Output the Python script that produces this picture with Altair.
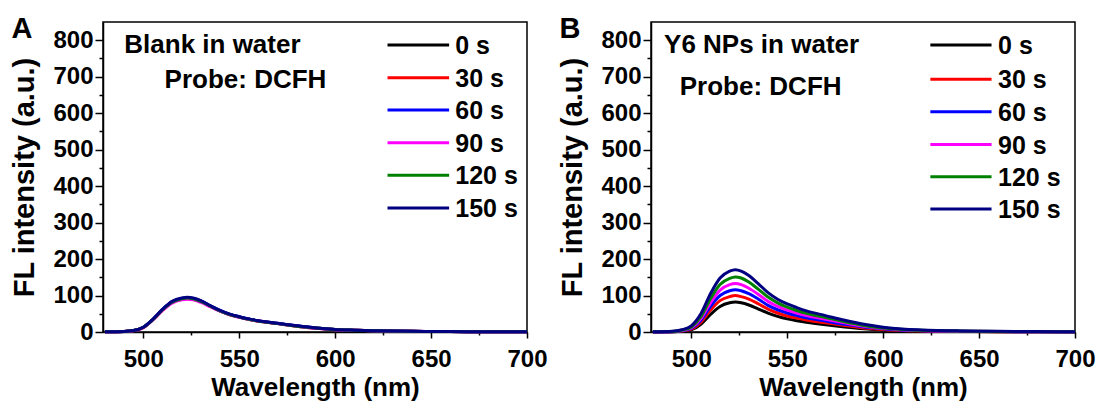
import altair as alt
import pandas as pd

# ---------------- data ----------------
WAVELENGTH = [480, 490, 495, 500, 505, 510, 515, 520, 523, 526, 530, 535, 540,
              545, 550, 555, 560, 570, 580, 590, 600, 610, 620, 640, 660, 680, 700]
TIMES = ["0 s", "30 s", "60 s", "90 s", "120 s", "150 s"]
COLORS = ["#000000", "#ff0000", "#0000ff", "#ff00ff", "#008000", "#000080"]

# Panel A: blank in water (curves nearly overlap)
A_0S = [0.5, 1.4, 4, 12.5, 34, 61, 82, 91, 93, 91, 84, 71, 58, 48, 41, 35, 30, 23, 16.5, 11, 7, 5, 3.4, 2, 1.2, 0.8, 0.5]
A_30S = [0.5, 1.4, 4, 12, 34, 60, 81, 90, 92, 90, 83, 70, 58, 48, 41, 35, 30, 23, 16, 10.5, 7, 4.8, 3.4, 1.9, 1.1, 0.7, 0.5]
A_60S = [0.5, 1.5, 4, 13, 35, 62, 83, 92, 94, 92, 85, 72, 59, 49, 42, 36, 31, 24, 17, 11, 7, 5, 3.5, 2, 1.2, 0.8, 0.5]
A_90S = [0.4, 1.3, 3.5, 12, 33, 59, 79, 88, 90, 88, 81, 69, 57, 47, 40, 34, 30, 23, 16, 10, 6.5, 4.5, 3.2, 1.8, 1.1, 0.7, 0.4]
A_120S = [0.5, 1.5, 4, 13, 34, 61, 82, 91, 93, 91, 84, 71, 58, 48, 41, 35, 30, 23, 16, 11, 7, 5, 3.5, 2, 1.2, 0.8, 0.5]
A_150S = [0.5, 1.5, 4, 13, 35, 62, 84, 93, 95, 93, 86, 72, 59, 49, 42, 36, 31, 24, 17, 11, 7, 5, 3.5, 2, 1.2, 0.8, 0.5]

# Panel B: Y6 NPs in water
B_0S = [0.2, 0.6, 2, 6, 21, 48, 70, 80, 82, 80, 74, 63, 52, 43, 36, 31, 27, 20, 14, 9, 5.5, 3.5, 2.5, 1.3, 0.8, 0.5, 0.3]
B_30S = [0.3, 0.8, 3, 8, 27, 60, 86, 97, 100, 97, 90, 77, 63, 52, 44, 38, 33, 25, 18, 11, 7, 4, 3, 1.6, 1, 0.6, 0.4]
B_60S = [0.3, 1, 3.5, 10, 32, 70, 100, 113, 116, 113, 105, 90, 73, 61, 52, 45, 39, 30, 21, 14, 9, 5, 3.5, 2, 1.2, 0.8, 0.5]
B_90S = [0.4, 1.2, 4, 12, 37, 80, 115, 130, 133, 130, 120, 103, 84, 70, 60, 52, 45, 35, 25, 16, 10, 6, 4, 2.2, 1.4, 0.9, 0.5]
B_120S = [0.5, 1.5, 5, 14, 42, 91, 130, 147, 151, 148, 137, 117, 96, 80, 68, 59, 51, 40, 28, 18, 11, 7, 4.5, 2.5, 1.6, 1, 0.6]
B_150S = [0.5, 2, 6, 17, 50, 105, 148, 167, 171, 167, 155, 132, 108, 90, 77, 67, 58, 45, 32, 21, 13, 8, 5.5, 3, 2, 1.2, 0.8]

PANEL_A = [A_0S, A_30S, A_60S, A_90S, A_120S, A_150S]
PANEL_B = [B_0S, B_30S, B_60S, B_90S, B_120S, B_150S]

# annotation texts (data coordinates of left/baseline)
A_NOTES = ["Blank in water", "Probe: DCFH"]
A_NOTE_X = [490.1, 511.1]
A_NOTE_Y = [766, 670]
B_NOTES = ["Y6 NPs in water", "Probe: DCFH"]
B_NOTE_X = [485.8, 494.0]
B_NOTE_Y = [766, 650]

# legend rows (data coordinates)
A_LEG_X = [627.3, 659.4, 662.6]
A_LEG_Y = [787, 697, 609, 519, 430, 340]
B_LEG_X = [624.6, 656.5, 659.9]
B_LEG_Y = [787, 693, 604, 514, 426, 337]

LETTER_X = 431.3
LETTER_Y = 805

FONT = "Liberation Sans"


def make_panel(series, letter, notes, note_x, note_y, leg_x, leg_y):
    rows = []
    for t, vals in zip(TIMES, series):
        for w, v in zip(WAVELENGTH, vals):
            rows.append({"time": t, "wavelength": w, "intensity": v})
    df = pd.DataFrame(rows)

    xs = alt.Scale(domain=[479, 700], nice=False, zero=False)
    ys = alt.Scale(domain=[0, 850], nice=False, zero=False)
    cs = alt.Scale(domain=TIMES, range=COLORS)

    x_axis = alt.Axis(
        values=list(range(500, 701, 25)),
        labelExpr="datum.value % 50 === 0 ? datum.label : ''",
        tickSize={"condition": {"test": "datum.value % 50 === 0", "value": 6}, "value": 3},
        grid=False, labelFlush=False, labelOverlap=False, labelBound=False,
        domainColor="black", domainWidth=1.5, tickColor="black", tickWidth=1.5,
        labelFont=FONT, labelFontSize=24, labelFontWeight="bold", labelColor="black",
        labelPadding=9,
        titleFont=FONT, titleFontSize=26, titleFontWeight="bold", titleColor="black",
        titlePadding=3,
    )
    y_axis = alt.Axis(
        values=list(range(0, 801, 50)),
        labelExpr="datum.value % 100 === 0 ? datum.label : ''",
        tickSize={"condition": {"test": "datum.value % 100 === 0", "value": 8}, "value": 4},
        grid=False, labelFlush=False, labelOverlap=False, labelBound=False,
        domainColor="black", domainWidth=1.5, tickColor="black", tickWidth=1.5,
        labelFont=FONT, labelFontSize=24, labelFontWeight="bold", labelColor="black",
        labelPadding=2,
        titleFont=FONT, titleFontSize=29, titleFontWeight="bold", titleColor="black",
        titlePadding=13,
    )
    XT = "Wavelength (nm)"
    YT = "FL intensity (a.u.)"

    def X(f):
        return alt.X(f, type="quantitative", scale=xs, axis=x_axis, title=XT)

    def Y(f):
        return alt.Y(f, type="quantitative", scale=ys, axis=y_axis, title=YT)

    lines = alt.Chart(df).mark_line(strokeWidth=3, interpolate="monotone").encode(
        x=X("wavelength"), y=Y("intensity"),
        color=alt.Color("time:N", scale=cs, legend=None),
    )

    leg = pd.DataFrame({
        "time": TIMES,
        "wavelength": [leg_x[0]] * 6,
        "x2": [leg_x[1]] * 6,
        "tx": [leg_x[2]] * 6,
        "intensity": leg_y,
    })
    leg_rules = alt.Chart(leg).mark_rule(strokeWidth=3).encode(
        x=X("wavelength"), x2="x2:Q", y=Y("intensity"),
        color=alt.Color("time:N", scale=cs, legend=None),
    )
    leg_text = alt.Chart(leg).mark_text(
        align="left", baseline="middle", font=FONT, fontSize=25,
        fontWeight="bold", color="black", dy=1,
    ).encode(x=X("tx"), y=Y("intensity"), text="time:N")

    nd = pd.DataFrame({"wavelength": note_x, "intensity": note_y, "label": notes})
    note_text = alt.Chart(nd).mark_text(
        align="left", baseline="alphabetic", font=FONT, fontSize=26,
        fontWeight="bold", color="black",
    ).encode(x=X("wavelength"), y=Y("intensity"), text="label:N")

    ld = pd.DataFrame({"wavelength": [LETTER_X], "intensity": [LETTER_Y], "label": [letter]})
    letter_text = alt.Chart(ld).mark_text(
        align="left", baseline="alphabetic", font=FONT, fontSize=29,
        fontWeight="bold", color="black",
    ).encode(x=X("wavelength"), y=Y("intensity"), text="label:N")

    return alt.layer(lines, leg_rules, leg_text, note_text, letter_text).properties(
        width=424, height=310
    )


pa = make_panel(PANEL_A, "A", A_NOTES, A_NOTE_X, A_NOTE_Y, A_LEG_X, A_LEG_Y)
pb = make_panel(PANEL_B, "B", B_NOTES, B_NOTE_X, B_NOTE_Y, B_LEG_X, B_LEG_Y)

chart = alt.hconcat(pa, pb, spacing=10).properties(
    padding={"left": 10, "top": 14, "right": 0, "bottom": 0},
    background="white",
).configure_view(stroke="black", strokeWidth=1.5)

chart.save("out.html", embed_options={"renderer": "svg", "actions": False})
